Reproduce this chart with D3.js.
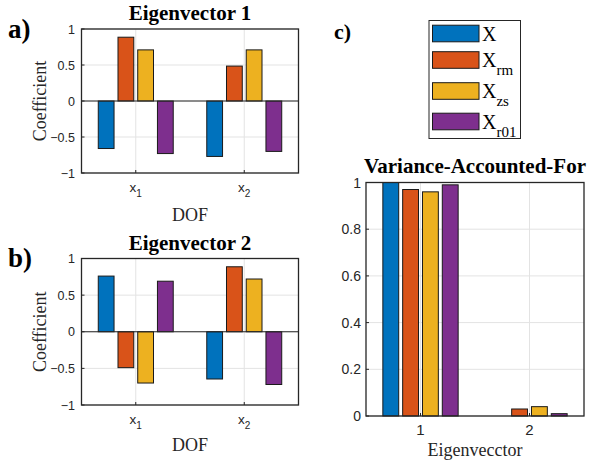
<!DOCTYPE html>
<html><head><meta charset="utf-8">
<script src="https://cdn.jsdelivr.net/npm/d3@7/dist/d3.min.js"></script>
<style>body{margin:0;background:#fff}svg{display:block}</style>
</head><body><svg id="c" width="589" height="468"></svg>
<script>
// ---- data ----
const seriesNames = ["X", "X_rm", "X_zs", "X_r01"];
const seriesColors = ["#0072BD", "#D95319", "#EDB120", "#7E2F8E"];
const dofLabels = ["x_1", "x_2"];
const eigLabels = ["1", "2"];
// Eigenvector 1 coefficients per DOF (x1, x2)
const ev1_X = [-0.66, -0.77];
const ev1_Xrm = [0.886, 0.485];
const ev1_Xzs = [0.71, 0.71];
const ev1_Xr01 = [-0.73, -0.70];
// Eigenvector 2 coefficients per DOF (x1, x2)
const ev2_X = [0.76, -0.645];
const ev2_Xrm = [-0.49, 0.887];
const ev2_Xzs = [-0.70, 0.72];
const ev2_Xr01 = [0.69, -0.72];
// Variance accounted for per eigenvector (1, 2)
const vaf_X = [1.0, 0.0];
const vaf_Xrm = [0.97, 0.03];
const vaf_Xzs = [0.96, 0.04];
const vaf_Xr01 = [0.99, 0.01];
const coefTicks = [-1, -0.5, 0, 0.5, 1];
const vafTicks = [0, 0.2, 0.4, 0.6, 0.8, 1];

const svg = d3.select("#c");
const serif = "'Liberation Serif','Times New Roman',serif";
const sans = "'Liberation Sans',Arial,sans-serif";
const axCol = "#262626";

function subText(sel, s, subSize, dy) {
  const parts = s.split("_");
  sel.append("tspan").text(parts[0]);
  if (parts[1]) sel.append("tspan").attr("font-size", subSize).attr("dy", dy).text(parts[1]);
}

function panel(o) {
  const g = svg.append("g");
  const x = d3.scaleLinear().domain([0.5, o.cats.length + 0.5]).range([o.x0, o.x1]);
  const y = d3.scaleLinear().domain(o.ydom).range([o.y1, o.y0]);
  // grid
  g.selectAll(".gy").data(o.yticks).join("line")
    .attr("x1", o.x0).attr("x2", o.x1).attr("y1", d => y(d)).attr("y2", d => y(d))
    .attr("stroke", "#e3e3e3").attr("stroke-width", 1);
  g.selectAll(".gx").data(o.cats).join("line")
    .attr("x1", (d, i) => x(i + 1)).attr("x2", (d, i) => x(i + 1)).attr("y1", o.y0).attr("y2", o.y1)
    .attr("stroke", "#e3e3e3").attr("stroke-width", 1);
  // bars
  const n = o.series.length;
  const gw = Math.min(0.8, n / (n + 1.5));
  const slot = gw / n;
  const bw = slot * 0.8;
  o.series.forEach((vals, s) => {
    g.selectAll(".b" + s).data(vals).join("rect")
      .attr("x", (d, i) => x(i + 1 + (s - (n - 1) / 2) * slot - bw / 2))
      .attr("width", x(bw) - x(0))
      .attr("y", d => y(Math.max(0, d)))
      .attr("height", d => Math.abs(y(d) - y(0)))
      .attr("fill", seriesColors[s]).attr("stroke", "#1a1a1a").attr("stroke-width", 1);
  });
  // baseline
  if (o.ydom[0] < 0) {
    g.append("line").attr("x1", o.x0).attr("x2", o.x1).attr("y1", y(0)).attr("y2", y(0))
      .attr("stroke", "#262626").attr("stroke-width", 1);
  }
  // box
  g.append("rect").attr("x", o.x0).attr("y", o.y0).attr("width", o.x1 - o.x0).attr("height", o.y1 - o.y0)
    .attr("fill", "none").attr("stroke", axCol).attr("stroke-width", 1.3);
  // y ticks
  g.selectAll(".ty").data(o.yticks).join("text")
    .attr("x", o.x0 - o.tickGap).attr("y", d => y(d)).attr("dy", "0.36em")
    .attr("text-anchor", "end").attr("font-family", sans).attr("font-size", o.tickSize).attr("fill", axCol)
    .text(d => d3.format("")(d));
  g.selectAll(".tky").data(o.yticks).join("line")
    .attr("x1", o.x0).attr("x2", o.x0 + 3).attr("y1", d => y(d)).attr("y2", d => y(d)).attr("stroke", axCol);
  // x ticks
  o.cats.forEach((c, i) => {
    const t = g.append("text").attr("x", x(i + 1)).attr("y", o.y1 + 19)
      .attr("text-anchor", "middle").attr("font-family", sans).attr("font-size", o.tickSize + 1).attr("fill", axCol);
    subText(t, c, 10, 5);
    g.append("line").attr("x1", x(i + 1)).attr("x2", x(i + 1)).attr("y1", o.y1).attr("y2", o.y1 - 3).attr("stroke", axCol);
  });
  // title
  g.append("text").attr("x", (o.x0 + o.x1) / 2).attr("y", o.titleY).attr("text-anchor", "middle")
    .attr("font-family", serif).attr("font-weight", "bold").attr("font-size", 21).attr("fill", "#000").text(o.title);
  // x label
  g.append("text").attr("x", (o.x0 + o.x1) / 2).attr("y", o.xlabY).attr("text-anchor", "middle")
    .attr("font-family", serif).attr("font-size", 18).attr("fill", axCol).text(o.xlab);
  if (o.ylab) {
    g.append("text").attr("transform", `translate(${o.ylabX},${(o.y0 + o.y1) / 2}) rotate(-90)`)
      .attr("text-anchor", "middle").attr("font-family", serif).attr("font-size", 18).attr("fill", axCol).text(o.ylab);
  }
  // panel letter
  g.append("text").attr("x", o.letX).attr("y", o.letY).attr("font-family", serif).attr("font-weight", "bold")
    .attr("font-size", o.letSize).attr("fill", "#000").text(o.letter);
}

panel({ x0: 81.5, x1: 298.5, y0: 29, y1: 173, ydom: [-1, 1], yticks: coefTicks, cats: dofLabels,
  series: [ev1_X, ev1_Xrm, ev1_Xzs, ev1_Xr01], title: "Eigenvector 1", titleY: 20, tickSize: 12.5, tickGap: 6.5,
  xlab: "DOF", xlabY: 221, ylab: "Coefficient", ylabX: 46, letter: "a)", letX: 8, letY: 38, letSize: 27 });
panel({ x0: 81.5, x1: 298.5, y0: 258.5, y1: 405, ydom: [-1, 1], yticks: coefTicks, cats: dofLabels,
  series: [ev2_X, ev2_Xrm, ev2_Xzs, ev2_Xr01], title: "Eigenvector 2", titleY: 250, tickSize: 12.5, tickGap: 6.5,
  xlab: "DOF", xlabY: 451, ylab: "Coefficient", ylabX: 46, letter: "b)", letX: 8, letY: 267, letSize: 27 });
panel({ x0: 366, x1: 584, y0: 182.5, y1: 416, ydom: [0, 1], yticks: vafTicks, cats: eigLabels,
  series: [vaf_X, vaf_Xrm, vaf_Xzs, vaf_Xr01], title: "Variance-Accounted-For", titleY: 173, tickSize: 14, tickGap: 5,
  xlab: "Eigenvecctor", xlabY: 456, ylab: null, letter: "c)", letX: 334, letY: 39, letSize: 22 });

// legend
const leg = svg.append("g");
leg.append("rect").attr("x", 429).attr("y", 20.5).attr("width", 91.5).attr("height", 118)
  .attr("fill", "#fff").attr("stroke", axCol).attr("stroke-width", 1);
const rowY = [33.5, 60, 91, 121.5];
seriesNames.forEach((s, i) => {
  leg.append("rect").attr("x", 432.5).attr("y", rowY[i] - 8.3).attr("width", 46.5).attr("height", 16.6)
    .attr("fill", seriesColors[i]).attr("stroke", "#1a1a1a").attr("stroke-width", 1);
  const t = leg.append("text").attr("x", 482).attr("y", rowY[i] + 7).attr("font-family", serif)
    .attr("font-size", 20).attr("fill", "#000");
  subText(t, s, 15, 8);
});
</script></body></html>
